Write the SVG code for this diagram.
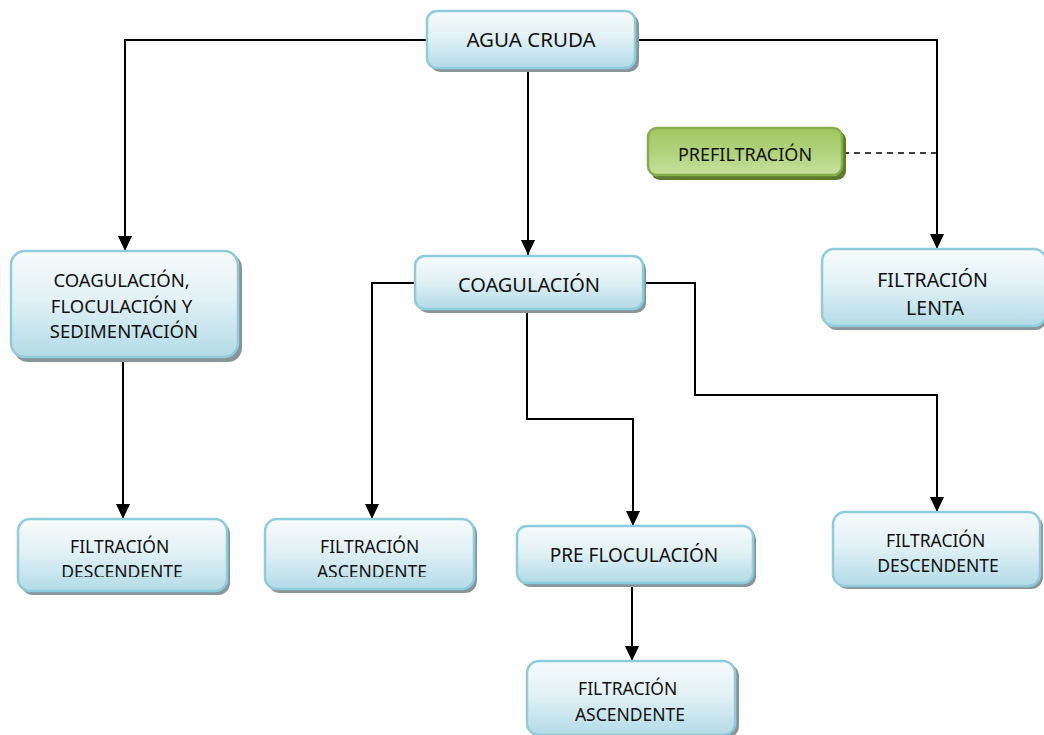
<svg xmlns="http://www.w3.org/2000/svg" width="1044" height="735" viewBox="0 0 1044 735">
  <style>
    .box { fill: url(#blueFill); stroke: #8ecbdb; stroke-width: 2.5; }
    .shadow { fill: #8a9599; }
    .gbox { fill: url(#greenFill); stroke: #86ad4a; stroke-width: 2.5; }
    .gshadow { fill: #5d7a2e; }
    .lbl { font-family: "Noto Sans", "Open Sans", sans-serif; fill: #111; text-anchor: middle; }
    .wire { fill: none; stroke: #000; stroke-width: 2; }
    .dash { fill: none; stroke: #000; stroke-width: 1.6; stroke-dasharray: 6 5; }
  </style>
  <defs>
    <linearGradient id="blueFill" x1="0" y1="0" x2="0" y2="1">
      <stop offset="0" stop-color="#f7fbfc"/>
      <stop offset="0.45" stop-color="#e2f1f5"/>
      <stop offset="1" stop-color="#b3dbe7"/>
    </linearGradient>
    <linearGradient id="greenFill" x1="0" y1="0" x2="0" y2="1">
      <stop offset="0" stop-color="#a1c862"/>
      <stop offset="0.5" stop-color="#b0d27a"/>
      <stop offset="1" stop-color="#c8e09f"/>
    </linearGradient>
    <marker id="arrow" viewBox="0 0 15 14" refX="15" refY="7" markerWidth="15" markerHeight="14" markerUnits="userSpaceOnUse" orient="auto">
      <path d="M0,0 L15,7 L0,14 Z" fill="#000"/>
    </marker>
    <clipPath id="clipDescL"><rect x="0" y="500" width="260" height="77"/></clipPath>
    <clipPath id="clipAscM"><rect x="250" y="500" width="240" height="77"/></clipPath>
    <clipPath id="clipDescR"><rect x="820" y="500" width="224" height="73"/></clipPath>
  </defs>

  <!-- connectors -->
  <g id="connectors">
    <polyline class="wire" points="427,40 125,40 125,251" marker-end="url(#arrow)"/>
    <polyline class="wire" points="636,40 937,40 937,249" marker-end="url(#arrow)"/>
    <line class="wire" x1="528" y1="69" x2="528" y2="255" marker-end="url(#arrow)"/>
    <line class="dash" x1="843" y1="153" x2="937" y2="153"/>
    <line class="wire" x1="123" y1="361" x2="123" y2="519" marker-end="url(#arrow)"/>
    <polyline class="wire" points="414,283 372,283 372,519" marker-end="url(#arrow)"/>
    <polyline class="wire" points="527,310 527,419 633,419 633,526" marker-end="url(#arrow)"/>
    <polyline class="wire" points="645,283 695,283 695,395 937,395 937,512" marker-end="url(#arrow)"/>
    <line class="wire" x1="632" y1="584" x2="632" y2="661" marker-end="url(#arrow)"/>
  </g>

  <!-- source -->
  <g id="agua-cruda">
    <rect class="shadow" x="430" y="14" width="209" height="58" rx="10"/>
    <rect class="box" x="427" y="11" width="208" height="57" rx="10"/>
    <text class="lbl" x="531" y="47" font-size="20.5">AGUA CRUDA</text>
  </g>

  <g id="prefiltracion">
    <rect class="gshadow" x="651" y="131" width="195" height="49" rx="9"/>
    <rect class="gbox" x="648" y="128" width="194" height="47" rx="9"/>
    <text class="lbl" x="745" y="161" font-size="18">PREFILTRACIÓN</text>
  </g>

  <g id="coag-floc-sed">
    <rect class="shadow" x="14" y="254" width="228" height="108" rx="14"/>
    <rect class="box" x="11" y="251" width="227" height="106" rx="14"/>
    <text class="lbl" font-size="18.5">
      <tspan x="124" y="287">COAGULACIÓN,</tspan>
      <tspan x="124" y="313">FLOCULACIÓN Y</tspan>
      <tspan x="124" y="338">SEDIMENTACIÓN</tspan>
    </text>
  </g>

  <g id="coagulacion">
    <rect class="shadow" x="418" y="259" width="228" height="54" rx="10"/>
    <rect class="box" x="415" y="256" width="228" height="53" rx="10"/>
    <text class="lbl" x="529" y="291.5" font-size="20">COAGULACIÓN</text>
  </g>

  <g id="filtracion-lenta">
    <rect class="shadow" x="825" y="252" width="222" height="78" rx="12"/>
    <rect class="box" x="822" y="249" width="224" height="77" rx="12"/>
    <text class="lbl" font-size="19.5">
      <tspan x="935" y="286.5">FILTRACIÓN</tspan>
      <tspan x="935" y="315">LENTA</tspan>
    </text>
  </g>

  <g id="filtracion-descendente-1">
    <rect class="shadow" x="21" y="522" width="209" height="73" rx="12"/>
    <rect class="box" x="18" y="519" width="209" height="72" rx="12"/>
    <g clip-path="url(#clipDescL)">
      <text class="lbl" font-size="17.5">
        <tspan x="122" y="553">FILTRACIÓN</tspan>
        <tspan x="122" y="578">DESCENDENTE</tspan>
      </text>
    </g>
  </g>

  <g id="filtracion-ascendente-1">
    <rect class="shadow" x="268" y="522" width="209" height="71" rx="12"/>
    <rect class="box" x="265" y="519" width="209" height="70" rx="12"/>
    <g clip-path="url(#clipAscM)">
      <text class="lbl" font-size="17.5">
        <tspan x="372" y="553">FILTRACIÓN</tspan>
        <tspan x="372" y="578">ASCENDENTE</tspan>
      </text>
    </g>
  </g>

  <g id="pre-floculacion">
    <rect class="shadow" x="520" y="529" width="236" height="58" rx="10"/>
    <rect class="box" x="517" y="526" width="236" height="57" rx="10"/>
    <text class="lbl" x="634" y="561.5" font-size="19">PRE FLOCULACIÓN</text>
  </g>

  <g id="filtracion-ascendente-2">
    <rect class="shadow" x="530" y="664" width="209" height="74" rx="12"/>
    <rect class="box" x="527" y="661" width="208" height="74" rx="12"/>
    <text class="lbl" font-size="17.5">
      <tspan x="630" y="695">FILTRACIÓN</tspan>
      <tspan x="630" y="720.5">ASCENDENTE</tspan>
    </text>
  </g>

  <g id="filtracion-descendente-2">
    <rect class="shadow" x="836" y="515" width="207" height="74" rx="12"/>
    <rect class="box" x="833" y="512" width="207" height="74" rx="12"/>
    <g clip-path="url(#clipDescR)">
      <text class="lbl" font-size="17.5">
        <tspan x="938" y="546.5">FILTRACIÓN</tspan>
        <tspan x="938" y="572">DESCENDENTE</tspan>
      </text>
    </g>
  </g>
</svg>
